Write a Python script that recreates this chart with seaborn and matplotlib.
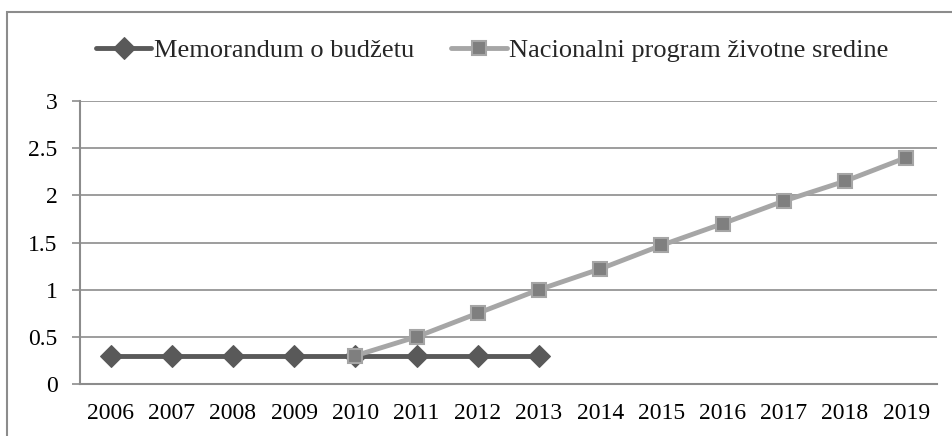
import matplotlib.pyplot as plt
import matplotlib.patches as mpatches
import pandas as pd
import seaborn as sns

sns.set_theme(style="white")
plt.rcParams['font.family'] = ['Liberation Serif', 'DejaVu Serif']

years = [2006, 2007, 2008, 2009, 2010, 2011, 2012, 2013, 2014, 2015, 2016, 2017, 2018, 2019]
memorandum = [0.3, 0.3, 0.3, 0.3, 0.3, 0.3, 0.3, 0.3, None, None, None, None, None, None]
nacionalni = [None, None, None, None, 0.3, 0.5, 0.75, 1.0, 1.22, 1.47, 1.7, 1.94, 2.15, 2.4]
names = ["Memorandum o budžetu", "Nacionalni program životne sredine"]

df = pd.DataFrame({"year": years, names[0]: memorandum, names[1]: nacionalni})
df = df.melt(id_vars="year", var_name="serija", value_name="vrednost").dropna()

fig = plt.figure(figsize=(9.52, 4.36), dpi=100)
ax = fig.add_axes([0.084, 0.1193, 0.9, 0.649])

# outer chart frame (partly cut off like the source)
fig.patches.append(mpatches.Rectangle((7 / 952, -0.05), 1.1, 1 - 12 / 436 + 0.05,
                                      transform=fig.transFigure, fill=False,
                                      edgecolor="#8c8c8c", lw=1.5, zorder=0))

grid_c = "#8c8c8c"
for y in [0.5, 1, 1.5, 2, 2.5, 3]:
    ax.axhline(y, color=grid_c, lw=1.2, zorder=0)

sns.lineplot(data=df[df.serija == names[0]], x="year", y="vrednost", ax=ax,
             color="#595959", lw=3.5, marker="D", markersize=11,
             markeredgecolor="#595959", label=names[0], zorder=3)
sns.lineplot(data=df[df.serija == names[1]], x="year", y="vrednost", ax=ax,
             color="#a6a6a6", lw=3.5, marker="s", markersize=9.5,
             markerfacecolor="#7f7f7f", markeredgecolor="#a6a6a6",
             markeredgewidth=1.5, label=names[1], zorder=4)

ax.set_xlim(2005.5, 2019.5)
ax.set_ylim(0, 3)
ax.set_xticks(years)
ax.set_xticks([y + 0.5 for y in [2005] + years], minor=True)
ax.set_yticks([0, 0.5, 1, 1.5, 2, 2.5, 3])
ax.set_yticklabels(["0", "0.5", "1", "1.5", "2", "2.5", "3"])
ax.set_xlabel("")
ax.set_ylabel("")

for s in ["top", "right"]:
    ax.spines[s].set_visible(False)
for s in ["left", "bottom"]:
    ax.spines[s].set_color(grid_c)
    ax.spines[s].set_linewidth(1.5)

ax.tick_params(axis="x", which="major", length=0, pad=14, labelsize=17, labelcolor="black")
ax.tick_params(axis="x", which="minor", length=6, width=1.5, color=grid_c, direction="out")
ax.tick_params(axis="y", length=6, width=1.2, color=grid_c, pad=10, labelsize=17,
               labelcolor="black", left=True)

ax.get_legend().remove()
h, l = ax.get_legend_handles_labels()
fig.legend(h, l, loc="center", bbox_to_anchor=(0.517, 0.885), ncol=2, frameon=False,
           fontsize=19, handlelength=2.1, handletextpad=0.1, columnspacing=1.4)

fig.savefig("out.png", dpi=100)
